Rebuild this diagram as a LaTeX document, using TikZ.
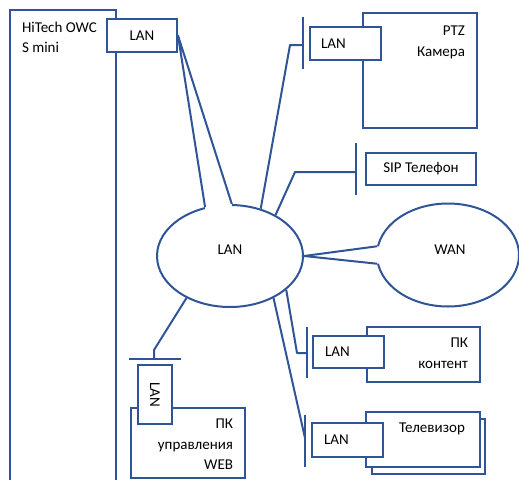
\documentclass[tikz,border=0pt]{standalone}
\usepackage{fontspec}
\setmainfont{Carlito}
\definecolor{myblue}{RGB}{47,85,151}
\usetikzlibrary{shapes,positioning,calc}

\begin{document}
\begin{tikzpicture}[x=1pt,y=-1pt,
    line width=2pt,
    every node/.style={font=\fontsize{15}{20.5}\selectfont,inner sep=0pt},
    box/.style={draw=myblue,fill=white,rectangle},
    lanbox/.style={box,minimum width=71,minimum height=33},
    cloud/.style={draw=myblue,fill=white,ellipse},
    wire/.style={draw=myblue,line join=round}
    ]
    \useasboundingbox (0,0) rectangle (519,479);
    \clip (0,0) rectangle (519,479);

    \node (hitech) [box,minimum width=106,minimum height=480] at (63,250) {};
    \node [anchor=north west,align=left] at ([xshift=12,yshift=-12]hitech.north west) {HiTech OWC\\S mini};
    \node (lanA) [lanbox,minimum width=70] at (142,35.5) {LAN};

    \node (lan) [cloud,minimum width=146,minimum height=102,label={[yshift=6]center:LAN}] at (230,256) {};
    \node (wan) [cloud,minimum width=142,minimum height=103,label={[xshift=2,yshift=5]center:WAN}] at (448,255) {};

    \node (ptz) [box,minimum width=114,minimum height=115] at (420,70.5) {};
    \node [anchor=north east,align=right] at ([xshift=-12,yshift=-13]ptz.north east) {PTZ\\Камера};
    \node (lanB) [lanbox,label={[xshift=-12]center:LAN}] at (345.5,43.5) {};

    \node (sip) [box,minimum width=110,minimum height=32] at (421,169) {SIP Телефон};

    \node (pkc) [box,minimum width=113,minimum height=55] at (423.5,354.5) {};
    \node [anchor=north east,align=right] at ([xshift=-12,yshift=-11]pkc.north east) {ПК\\контент};
    \node (lanC) [lanbox,minimum height=32,label={[xshift=-11]center:LAN}] at (348.5,352) {};

    \node (tvback) [box,minimum width=113,minimum height=55] at (428.5,446.5) {};
    \node (tv) [box,minimum width=114,minimum height=55,label={[xshift=9,yshift=11]center:Телевизор}] at (423,439.5) {};
    \node (lanD) [lanbox,minimum height=34,label={[xshift=-11]center:LAN}] at (347.5,440) {};

    \node (pku) [box,minimum width=114,minimum height=70] at (188,443) {};
    \node [anchor=north east,align=right] at ([xshift=-12,yshift=-11]pku.north east) {ПК\\управления\\WEB};
    \node (lanE) [lanbox,rotate=-90,minimum width=59,minimum height=34] at (155,394.5) {LAN};

    % port bars
    \coordinate (pB) at (303,45);
    \coordinate (pS) at (356,172);
    \coordinate (pC) at (307,353);
    \coordinate (pT) at (305,438);
    \coordinate (pU) at (154,359);
    \draw[wire] ([yshift=28]pB) -- ([yshift=-24]pB);
    \draw[wire] ([yshift=29]pS) -- ([yshift=-23]pS);
    \draw[wire] ([yshift=26]pC) -- ([yshift=-25]pC);
    \draw[wire] ([yshift=23]pT) -- ([yshift=-29]pT);
    \draw[wire] ([xshift=-25]pU) -- ([xshift=27]pU);

    % the callouts
    \fill[white] (lan.117) -- (lanA.east) -- (lan.88) -- ([yshift=-4]lan.88) -- ([yshift=-4]lan.117) -- cycle;
    \draw[wire] (lan.117) -- (lanA.east) -- (lan.88);
    \fill[white] (wan.173) -- (lan.east) -- (wan.-173) -- ([xshift=4]wan.-173) -- ([xshift=4]wan.173) -- cycle;
    \draw[wire] (wan.173) -- (lan.east) -- (wan.-173);

    % the edges
    \draw[wire] (lan.57) -- ([xshift=-13]pB) -- (pB);
    \draw[wire] (lan.42) -- ([xshift=-61]pS) -- (pS);
    \draw[wire] (lan.-31) -- ([xshift=-10]pC) -- (pC);
    \draw[wire] (lan.-44) -- (pT);
    \draw[wire] (lan.-136) -- ([yshift=9]pU) -- (pU);
\end{tikzpicture}
\end{document}
